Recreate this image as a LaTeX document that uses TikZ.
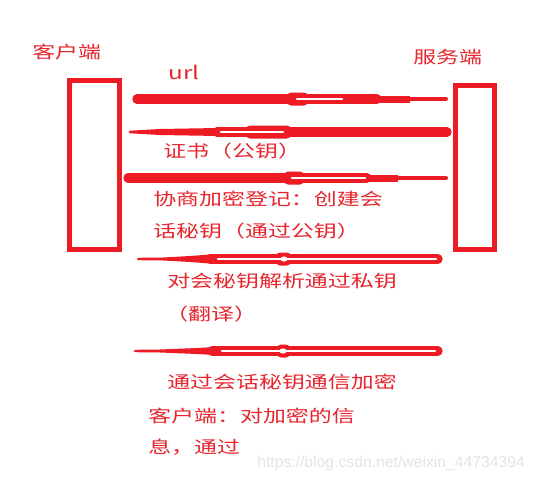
\documentclass[tikz,border=0pt]{standalone}
\usepackage{fontspec}
\newfontfamily\cjk[FakeStretch=1.35]{Noto Sans CJK SC}
\newfontfamily\wmfont{Liberation Sans}
\definecolor{pred}{RGB}{237,28,36}
\definecolor{tred}{RGB}{232,36,44}
\definecolor{wmgray}{RGB}{228,228,228}
\begin{document}
\begin{tikzpicture}[x=0.75pt,y=-0.75pt,
  lbl/.style={anchor=west,inner sep=0,text=tred,text height=0.83em,text depth=0.07em,
    font=\cjk\fontsize{12.75}{15}\selectfont},
  boxst/.style={draw=pred,line width=3.9pt,inner sep=0,fill=none},
  pen/.style={draw=pred,line cap=round},
  slit/.style={draw=white,line cap=round,line width=1.9pt},
  blob/.style={fill=pred,rounded corners=3pt}]
\useasboundingbox (0,0) rectangle (537,479);
\fill[white] (0,0) rectangle (537,479);

% boxes
\node[boxst,minimum width=37.5pt,minimum height=126.75pt] (client) at (94.5,165) {};
\node[boxst,minimum width=29.25pt,minimum height=123pt] (server) at (475,167.5) {};

% labels
\node[lbl] (lc) at (32,53) {客户端};
\node[lbl] (ls) at (413,58) {服务端};
\node[anchor=base west,inner sep=0,text=tred,font=\cjk\fontsize{13.5}{15}\selectfont] (lurl) at (168,79) {url};
\node[lbl] (l2) at (163,152) {证书（公钥）};
\node[lbl] (l3a) at (153,200) {协商加密登记：创建会};
\node[lbl] (l3b) at (153,232) {话秘钥（通过公钥）};
\node[lbl] (l4a) at (167,282) {对会秘钥解析通过私钥};
\node[lbl] (l4b) at (165,315) {（翻译）};
\node[lbl] (l5) at (167,383) {通过会话秘钥通信加密};
\node[lbl] (l6a) at (148,417) {客户端：对加密的信};
\node[lbl] (l6b) at (148,448) {息，通过};
\node[anchor=base west,inner sep=0,text=wmgray,font=\wmfont\fontsize{11.8}{14}\selectfont] (wm) at (257,467) {https://blog.csdn.net/weixin\_44734394};

% arrow 1: client -> server
\coordinate (a1s) at (137,99);
\coordinate (a1e) at (446,99);
\draw[pen,line width=7pt] (a1s) -- (377,99);
\fill[blob] (287,92.5) rectangle (308,105.5);
\draw[pen,line width=5.25pt,line cap=butt] (377,99) -- (410,99);
\draw[pen,line width=3pt] (409,99) -- (a1e);
\draw[slit] (297,99) -- (342,99);

% arrow 2: server -> client
\coordinate (a2s) at (447,132);
\coordinate (a2e) at (130,132);
\fill[pred] (a2e) ++(0,-1.3) -- (160,129) -- (218,128) -- (218,136) -- (160,135) -- (130,133.3) -- cycle;
\fill[pred] (a2e) circle (1.3);
\draw[pen,line width=7pt] (217,132) -- (a2s);
\fill[blob] (246,125.5) rectangle (291,138.5);
\draw[slit] (221,132) -- (283,132);

% arrow 3: client -> server
\coordinate (a3s) at (128,178);
\coordinate (a3e) at (446,178);
\draw[pen,line width=7pt] (a3s) -- (367,178);
\fill[blob] (284,171.5) rectangle (304,184.5);
\draw[pen,line width=5.25pt,line cap=butt] (367,178) -- (398,178);
\draw[pen,line width=3pt] (397,178) -- (a3e);
\draw[slit] (292,178) -- (365,178);

% arrow 4: server -> client
\coordinate (a4s) at (438,259);
\coordinate (a4e) at (138,259);
\fill[pred] (a4e) ++(0,-1.2) -- (163,257.5) -- (190,256) -- (210,254.5) -- (210,263.5) -- (190,262) -- (163,260.5) -- (138,260.2) -- cycle;
\fill[pred] (a4e) circle (1.2);
\draw[pen,line width=7pt] (210,259) -- (a4s);
\fill[blob] (276,252.5) rectangle (291,265.5);
\draw[slit] (218,259) -- (436,259);
\fill[white] (284,259) ellipse (3.5 and 2.6);

% arrow 5: server -> client
\coordinate (a5s) at (438,351);
\coordinate (a5e) at (135,351);
\fill[pred] (a5e) ++(0,-1.2) -- (160,349.5) -- (197,348) -- (215,347) -- (215,355) -- (197,354) -- (160,352.5) -- (135,352.2) -- cycle;
\fill[pred] (a5e) circle (1.2);
\draw[pen,line width=7pt] (212,351) -- (a5s);
\fill[blob] (277,344.5) rectangle (290,357.5);
\draw[slit] (222,351) -- (435,351);
\fill[white] (283,351) ellipse (3.5 and 2.6);
\end{tikzpicture}
\end{document}
